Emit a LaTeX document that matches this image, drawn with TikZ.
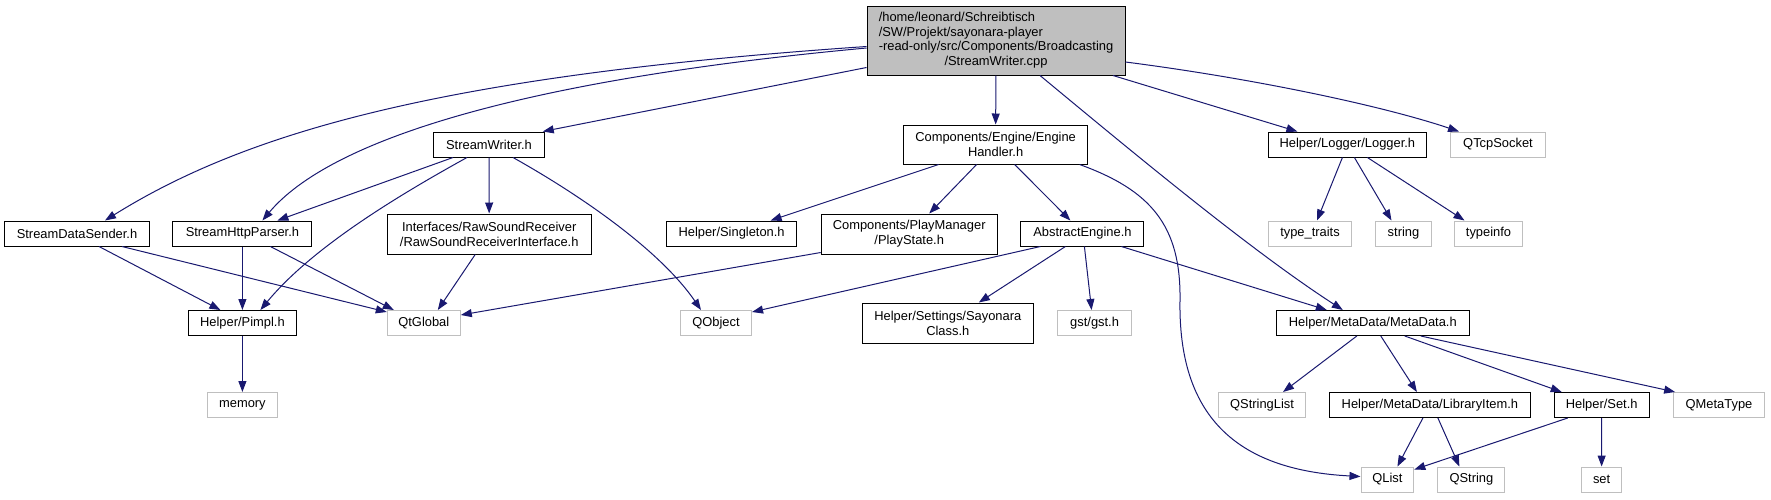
\documentclass[tikz,border=0pt]{standalone}
\usepackage{fontspec}
\setmainfont{Liberation Sans}
\usetikzlibrary{arrows.meta}
\definecolor{edgecol}{HTML}{191970}
\definecolor{grayb}{HTML}{BFBFBF}
\begin{document}
\begin{tikzpicture}[x=1pt,y=-1pt,
  box/.style={draw=black, line width=1pt, inner sep=0pt, minimum height=25pt,
    font=\fontsize{12.9}{14.8}\selectfont, align=center, text=black},
  ext/.style={box, draw=grayb},
  edge/.style={draw=edgecol, line width=1pt, -{Triangle[length=11pt,width=8pt]}}]
\useasboundingbox[fill=white] (0,0) rectangle (1771,499);

% nodes
\node[box, fill=grayb, minimum width=258pt, minimum height=69pt] (root) at (996,40.5)
  {\begin{tabular}{@{}l@{}}/home/leonard/Schreibtisch\\/SW/Projekt/sayonara-player\\-read-only/src/Components/Broadcasting\\\multicolumn{1}{@{}c@{}}{/StreamWriter.cpp}\end{tabular}};
\node[box, minimum width=110.5pt] (sw) at (489,144.5) {StreamWriter.h};
\node[box, minimum width=144.6pt] (sds) at (77,233.5) {StreamDataSender.h};
\node[box, minimum width=138.9pt] (shp) at (242.4,233.5) {StreamHttpParser.h};
\node[box, minimum width=203.9pt, minimum height=40pt] (rs) at (489.2,234) {Interfaces/RawSoundReceiver\\/RawSoundReceiverInterface.h};
\node[box, minimum width=184.5pt, minimum height=39pt] (eh) at (995.6,144.5) {Components/Engine/Engine\\Handler.h};
\node[box, minimum width=129.3pt] (sing) at (731.6,233.5) {Helper/Singleton.h};
\node[box, minimum width=176pt, minimum height=40pt] (ps) at (909.2,234) {Components/PlayManager\\/PlayState.h};
\node[box, minimum width=122.9pt] (ae) at (1082.4,233.5) {AbstractEngine.h};
\node[box, minimum width=157.3pt] (log) at (1347.4,144.5) {Helper/Logger/Logger.h};
\node[ext, minimum width=95.3pt] (tcp) at (1498,144.5) {QTcpSocket};
\node[ext, minimum width=82.7pt] (tt) at (1310,233.5) {type\_traits};
\node[ext, minimum width=55.1pt] (str) at (1403.5,233.5) {string};
\node[ext, minimum width=68.5pt] (ti) at (1488.5,233.5) {typeinfo};
\node[box, minimum width=108.3pt] (pimpl) at (242.4,323) {Helper/Pimpl.h};
\node[ext, minimum width=73pt] (qtg) at (423.8,323) {QtGlobal};
\node[ext, minimum width=70pt] (mem) at (242.4,405) {memory};
\node[ext, minimum width=71.1pt] (qobj) at (716,323) {QObject};
\node[box, minimum width=170.7pt, minimum height=40pt] (say) at (947.8,323) {Helper/Settings/Sayonara\\Class.h};
\node[ext, minimum width=73.8pt] (gst) at (1094.6,323) {gst/gst.h};
\node[box, minimum width=192.8pt] (md) at (1372.8,323) {Helper/MetaData/MetaData.h};
\node[ext, minimum width=86.9pt] (qsl) at (1262,405) {QStringList};
\node[box, minimum width=201.3pt] (li) at (1429.9,405) {Helper/MetaData/LibraryItem.h};
\node[box, minimum width=94.9pt] (set) at (1601.7,405) {Helper/Set.h};
\node[ext, minimum width=90.7pt] (qmt) at (1719,405) {QMetaType};
\node[ext, minimum width=52.8pt] (qlist) at (1387.4,479.5) {QList};
\node[ext, minimum width=66.9pt] (qstr) at (1471.4,479.5) {QString};
\node[ext, minimum width=39.8pt] (sset) at (1601.6,479.5) {set};

% edges from root
\draw[edge] ([yshift=-6]root.west) .. controls (450,75) and (250,130) .. ([xshift=28]sds.north);
\draw[edge] ([yshift=-7.5]root.west) .. controls (520,80) and (330,140) .. ([xshift=20]shp.north);
\draw[edge] ([yshift=8]root.south west) -- ([xshift=-2]sw.north east);
\draw[edge] (root) -- (eh);
\draw[edge] ([xshift=44]root.south) .. controls (1130,150) and (1250,250) .. ([xshift=-30]md.north);
\draw[edge] ([xshift=117]root.south) -- ([xshift=-50]log.north);
\draw[edge] ([yshift=-21.5]root.east) .. controls (1250,78) and (1380,105) .. ([xshift=-39]tcp.north);

% StreamWriter.h
\draw[edge] ([xshift=-36]sw.south) -- ([xshift=35]shp.north);
\draw[edge] ([xshift=-22]sw.south) .. controls (390,200) and (310,250) .. ([xshift=18]pimpl.north);
\draw[edge] (sw) -- (rs);
\draw[edge] ([xshift=24]sw.south) .. controls (580,195) and (660,250) .. ([xshift=-15]qobj.north);

% left group
\draw[edge] ([xshift=22]sds.south) -- ([xshift=-22]pimpl.north);
\draw[edge] ([xshift=45]sds.south) -- ([yshift=-2]qtg.north west);
\draw[edge] (shp) -- (pimpl);
\draw[edge] ([xshift=28]shp.south) -- ([xshift=-30]qtg.north);
\draw[edge] ([xshift=-14]rs.south) -- ([xshift=14]qtg.north);
\draw[edge] ([yshift=2]ps.south west) -- ([yshift=8]qtg.east);
\draw[edge] (pimpl) -- (mem);

% EngineHandler
\draw[edge] ([xshift=-57]eh.south) -- ([xshift=39]sing.north);
\draw[edge] ([xshift=-19]eh.south) -- ([xshift=20]ps.north);
\draw[edge] ([xshift=19]eh.south) -- ([xshift=-12]ae.north);
\draw[edge] ([xshift=84]eh.south) .. controls (1150,190) and (1181,225) .. (1180,300)
  .. controls (1178,415) and (1235,470) .. ([yshift=3]qlist.west);

% AbstractEngine
\draw[edge] ([xshift=-42]ae.south) -- ([yshift=-2]qobj.north east);
\draw[edge] ([xshift=-17]ae.south) -- ([xshift=31]say.north);
\draw[edge] ([xshift=2]ae.south) -- ([xshift=-3]gst.north);
\draw[edge] ([xshift=39]ae.south) -- ([xshift=-46]md.north);

% Logger
\draw[edge] ([xshift=-5]log.south) -- ([xshift=7]tt.north);
\draw[edge] ([xshift=7]log.south) -- ([xshift=-12]str.north);
\draw[edge] ([xshift=20]log.south) -- ([xshift=-24]ti.north);

% MetaData
\draw[edge] ([xshift=-16]md.south) -- ([xshift=21]qsl.north);
\draw[edge] ([xshift=8]md.south) -- ([xshift=-13]li.north);
\draw[edge] ([xshift=32]md.south) -- ([xshift=-40]set.north);
\draw[edge] ([xshift=48]md.south) -- ([xshift=2]qmt.north west);

% LibraryItem, Set
\draw[edge] ([xshift=-7]li.south) -- ([xshift=10]qlist.north);
\draw[edge] ([xshift=8]li.south) -- ([xshift=-12]qstr.north);
\draw[edge] ([xshift=-34]set.south) -- ([yshift=-3]qlist.north east);
\draw[edge] (set) -- (sset);
\end{tikzpicture}
\end{document}
